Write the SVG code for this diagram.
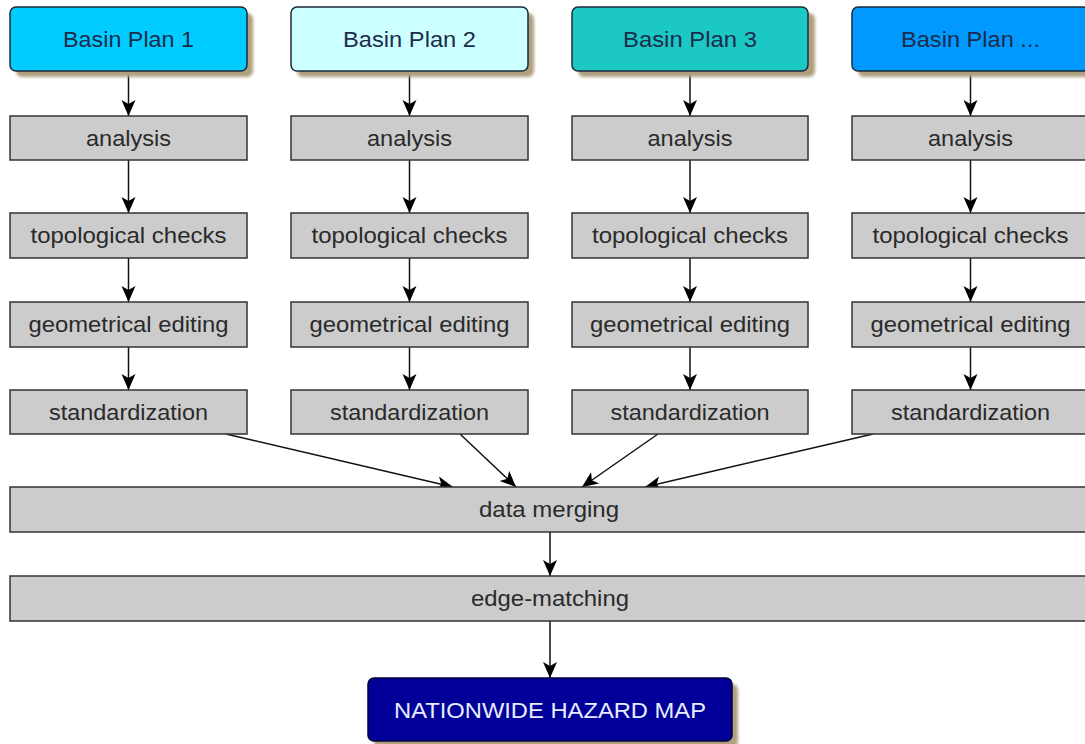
<svg xmlns="http://www.w3.org/2000/svg" width="1085" height="744" viewBox="0 0 1085 744">
<defs>
<marker id="ah" markerWidth="16" markerHeight="16" viewBox="0 0 16 16" refX="16" refY="8" orient="auto" markerUnits="userSpaceOnUse">
<path d="M0,1 L16,8 L0,15 L4,8 Z" fill="#000"/>
</marker>
<filter id="sh" x="-10%" y="-20%" width="130%" height="160%">
<feGaussianBlur stdDeviation="1.5"/>
</filter>
</defs>
<style>
.t{font-family:"Liberation Sans",Arial,sans-serif;font-size:22px;text-anchor:middle}
.g{fill:#cccccc;stroke:#333;stroke-width:1.5}
.gt{fill:#2a2a2a}
.bt{fill:#1c2c4c}
.b{stroke:#1a2a3a;stroke-width:1.5}
.sh{fill:#b0a080;filter:url(#sh)}
.c{stroke:#111;stroke-width:1.5;fill:none;marker-end:url(#ah)}
</style>
<rect width="1085" height="744" fill="#fff"/>
<g id="connectors">
<line class="c" x1="128.5" y1="71" x2="128.5" y2="116"/>
<line class="c" x1="128.5" y1="160" x2="128.5" y2="213"/>
<line class="c" x1="128.5" y1="258" x2="128.5" y2="302"/>
<line class="c" x1="128.5" y1="347" x2="128.5" y2="390"/>
<line class="c" x1="409.5" y1="71" x2="409.5" y2="116"/>
<line class="c" x1="409.5" y1="160" x2="409.5" y2="213"/>
<line class="c" x1="409.5" y1="258" x2="409.5" y2="302"/>
<line class="c" x1="409.5" y1="347" x2="409.5" y2="390"/>
<line class="c" x1="690" y1="71" x2="690" y2="116"/>
<line class="c" x1="690" y1="160" x2="690" y2="213"/>
<line class="c" x1="690" y1="258" x2="690" y2="302"/>
<line class="c" x1="690" y1="347" x2="690" y2="390"/>
<line class="c" x1="970.5" y1="71" x2="970.5" y2="116"/>
<line class="c" x1="970.5" y1="160" x2="970.5" y2="213"/>
<line class="c" x1="970.5" y1="258" x2="970.5" y2="302"/>
<line class="c" x1="970.5" y1="347" x2="970.5" y2="390"/>
<line class="c" x1="226" y1="434" x2="453" y2="487"/>
<line class="c" x1="460" y1="434" x2="516" y2="487"/>
<line class="c" x1="658" y1="434" x2="582" y2="487"/>
<line class="c" x1="873" y1="434" x2="645" y2="487"/>
<line class="c" x1="550" y1="532" x2="550" y2="576"/>
<line class="c" x1="550" y1="621" x2="550" y2="678"/>
</g>
<g id="basin1">
<rect class="sh" x="16" y="13" width="237" height="64" rx="6"/>
<rect class="b" x="10" y="7" width="237" height="64" rx="6" fill="#00ccff"/>
<text class="t bt" x="128.5" y="47" textLength="131" lengthAdjust="spacingAndGlyphs">Basin Plan 1</text>
</g>
<g id="basin2">
<rect class="sh" x="297" y="13" width="237" height="64" rx="6"/>
<rect class="b" x="291" y="7" width="237" height="64" rx="6" fill="#ccffff"/>
<text class="t bt" x="409.5" y="47" textLength="133" lengthAdjust="spacingAndGlyphs">Basin Plan 2</text>
</g>
<g id="basin3">
<rect class="sh" x="578" y="13" width="237" height="64" rx="6"/>
<rect class="b" x="572" y="7" width="236" height="64" rx="6" fill="#1cc8c4"/>
<text class="t bt" x="690" y="47" textLength="134" lengthAdjust="spacingAndGlyphs">Basin Plan 3</text>
</g>
<g id="basin4">
<rect class="sh" x="858" y="13" width="237" height="64" rx="6"/>
<rect class="b" x="852" y="7" width="237" height="64" rx="6" fill="#0099ff"/>
<text class="t bt" x="970.5" y="47" textLength="139" lengthAdjust="spacingAndGlyphs">Basin Plan ...</text>
</g>
<g id="analysis1"><rect class="g" x="10" y="116" width="237" height="44"/><text class="t gt" x="128.5" y="146" textLength="85" lengthAdjust="spacingAndGlyphs">analysis</text></g>
<g id="analysis2"><rect class="g" x="291" y="116" width="237" height="44"/><text class="t gt" x="409.5" y="146" textLength="85" lengthAdjust="spacingAndGlyphs">analysis</text></g>
<g id="analysis3"><rect class="g" x="572" y="116" width="236" height="44"/><text class="t gt" x="690" y="146" textLength="85" lengthAdjust="spacingAndGlyphs">analysis</text></g>
<g id="analysis4"><rect class="g" x="852" y="116" width="237" height="44"/><text class="t gt" x="970.5" y="146" textLength="85" lengthAdjust="spacingAndGlyphs">analysis</text></g>
<g id="topo1"><rect class="g" x="10" y="213" width="237" height="45"/><text class="t gt" x="128.5" y="243" textLength="196" lengthAdjust="spacingAndGlyphs">topological checks</text></g>
<g id="topo2"><rect class="g" x="291" y="213" width="237" height="45"/><text class="t gt" x="409.5" y="243" textLength="196" lengthAdjust="spacingAndGlyphs">topological checks</text></g>
<g id="topo3"><rect class="g" x="572" y="213" width="236" height="45"/><text class="t gt" x="690" y="243" textLength="196" lengthAdjust="spacingAndGlyphs">topological checks</text></g>
<g id="topo4"><rect class="g" x="852" y="213" width="237" height="45"/><text class="t gt" x="970.5" y="243" textLength="196" lengthAdjust="spacingAndGlyphs">topological checks</text></g>
<g id="geo1"><rect class="g" x="10" y="302" width="237" height="45"/><text class="t gt" x="128.5" y="332" textLength="200" lengthAdjust="spacingAndGlyphs">geometrical editing</text></g>
<g id="geo2"><rect class="g" x="291" y="302" width="237" height="45"/><text class="t gt" x="409.5" y="332" textLength="200" lengthAdjust="spacingAndGlyphs">geometrical editing</text></g>
<g id="geo3"><rect class="g" x="572" y="302" width="236" height="45"/><text class="t gt" x="690" y="332" textLength="200" lengthAdjust="spacingAndGlyphs">geometrical editing</text></g>
<g id="geo4"><rect class="g" x="852" y="302" width="237" height="45"/><text class="t gt" x="970.5" y="332" textLength="200" lengthAdjust="spacingAndGlyphs">geometrical editing</text></g>
<g id="std1"><rect class="g" x="10" y="390" width="237" height="44"/><text class="t gt" x="128.5" y="420" textLength="159" lengthAdjust="spacingAndGlyphs">standardization</text></g>
<g id="std2"><rect class="g" x="291" y="390" width="237" height="44"/><text class="t gt" x="409.5" y="420" textLength="159" lengthAdjust="spacingAndGlyphs">standardization</text></g>
<g id="std3"><rect class="g" x="572" y="390" width="236" height="44"/><text class="t gt" x="690" y="420" textLength="159" lengthAdjust="spacingAndGlyphs">standardization</text></g>
<g id="std4"><rect class="g" x="852" y="390" width="237" height="44"/><text class="t gt" x="970.5" y="420" textLength="159" lengthAdjust="spacingAndGlyphs">standardization</text></g>
<g id="merging"><rect class="g" x="10" y="487" width="1080" height="45"/><text class="t gt" x="549" y="517" textLength="140" lengthAdjust="spacingAndGlyphs">data merging</text></g>
<g id="edgematching"><rect class="g" x="10" y="576" width="1080" height="45"/><text class="t gt" x="550" y="606" textLength="158" lengthAdjust="spacingAndGlyphs">edge-matching</text></g>
<g id="nationwide">
<rect class="sh" x="374" y="684" width="364" height="64" rx="6"/>
<rect x="368" y="678" width="364" height="63" rx="6" fill="#000099" stroke="#00003a" stroke-width="1.5"/>
<text class="t" x="550" y="718" fill="#e8ecff" textLength="312" lengthAdjust="spacingAndGlyphs">NATIONWIDE HAZARD MAP</text>
</g>
</svg>
